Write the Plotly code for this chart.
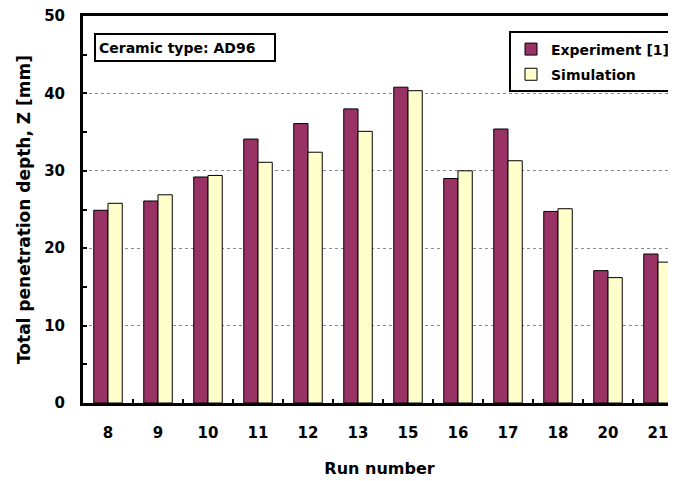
import plotly.graph_objects as go

runs = ["8", "9", "10", "11", "12", "13", "15", "16", "17", "18", "20", "21"]
experiment = [24.9, 26.1, 29.2, 34.1, 36.1, 38.0, 40.8, 29.0, 35.4, 24.75, 17.1, 19.25]
simulation = [25.8, 26.9, 29.4, 31.1, 32.4, 35.1, 40.35, 30.0, 31.3, 25.1, 16.2, 18.2]
y_ticks = [0, 10, 20, 30, 40, 50]

FONT = "DejaVu Sans"

fig = go.Figure()
fig.add_trace(go.Bar(
    x=runs, y=experiment, name="Experiment [1]", legendgroup="a",
    marker=dict(color="#993366", line=dict(color="#000000", width=1)),
))
fig.add_trace(go.Bar(
    x=runs, y=simulation, name="Simulation", legendgroup="b",
    marker=dict(color="#FFFFCC", line=dict(color="#000000", width=1)),
))

# The page has an 8px body margin, so the figure is sized to fit the window.
fig.update_layout(
    width=668, height=473,
    margin=dict(l=75, r=0, t=8, b=78),
    paper_bgcolor="white", plot_bgcolor="white",
    barmode="group", bargap=0.43, bargroupgap=0,
    font=dict(family=FONT, color="black", size=14, weight="bold"),
    showlegend=True,
    legend=dict(
        x=1, xanchor="right", y=0.96, yanchor="top",
        bordercolor="black", borderwidth=2, bgcolor="white",
        font=dict(family=FONT, size=14, weight="bold", color="black"),
        tracegroupgap=4,
    ),
    xaxis=dict(
        type="category",
        range=[-0.5, -0.5 + 593 / 50],
        showline=True, linecolor="black", linewidth=3, mirror=True,
        ticks="inside", tickson="boundaries", ticklen=4, tickwidth=1.5, tickcolor="black",
        tickfont=dict(family=FONT, size=15, weight="bold"),
        ticklabelstandoff=14,
        title=dict(text="Run number", font=dict(family=FONT, size=16, weight="bold"), standoff=22),
        showgrid=False, zeroline=False,
    ),
    yaxis=dict(
        range=[0, 50], tickvals=y_ticks,
        showline=True, linecolor="black", linewidth=3,
        ticks="inside", ticklen=4, tickwidth=1.5, tickcolor="black",
        minor=dict(dtick=5, ticks="inside", ticklen=4, tickwidth=1.5, tickcolor="black", showgrid=False),
        showgrid=True, gridcolor="#8a8a8a", griddash="dot", gridwidth=1,
        zeroline=False,
        tickfont=dict(family=FONT, size=15, weight="bold"),
        ticklabelstandoff=12,
        ticklabeloverflow="allow",
        title=dict(text="Total penetration depth, Z [mm]", font=dict(family=FONT, size=17, weight="bold"), standoff=10),
    ),
    annotations=[dict(
        text="Ceramic type: AD96",
        xref="paper", yref="paper", x=(94 - 83) / 593, y=(403 - 33) / 387,
        xanchor="left", yanchor="top", showarrow=False,
        font=dict(family=FONT, size=14, weight="bold", color="black"),
        bordercolor="black", borderwidth=2, borderpad=3, bgcolor="white",
        width=172, height=19, align="left",
    )],
)

fig.write_html("out.html")
